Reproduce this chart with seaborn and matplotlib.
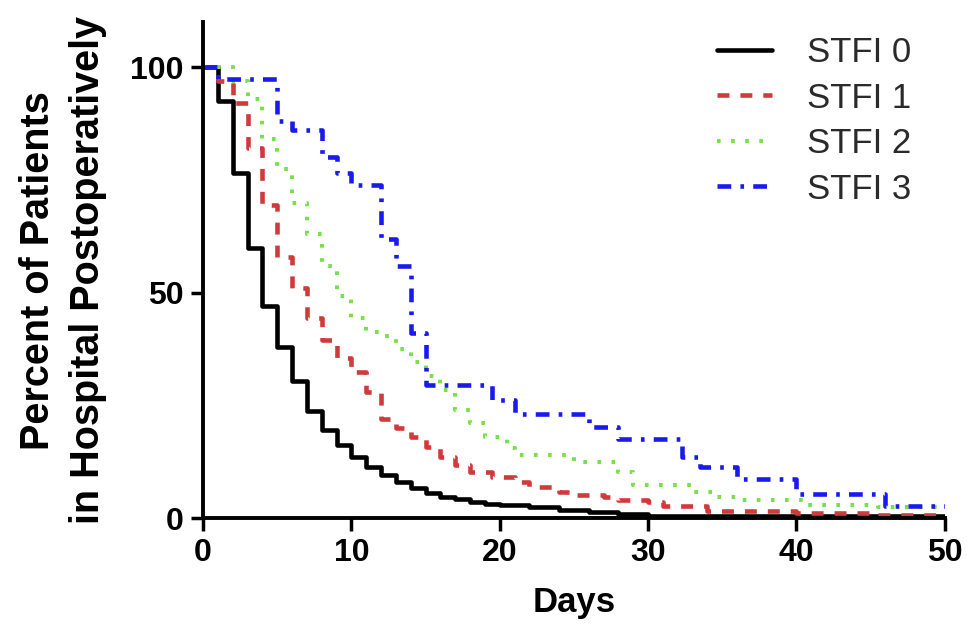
import matplotlib
matplotlib.use("Agg")
import matplotlib.pyplot as plt
import seaborn as sns
import pandas as pd

# ---- data ----
labels = ["STFI 0", "STFI 1", "STFI 2", "STFI 3"]

days_0 = [0, 1, 2, 3, 4, 5, 6, 7, 8, 9, 10, 11, 12, 13, 14, 15, 16, 17, 18, 19, 20, 22, 24, 26, 28, 30, 50]
pct_0 = [100, 92.6, 76.5, 60, 47, 38, 30.4, 23.7, 19.6, 16.3, 13.6, 11.4, 9.6, 8.0, 6.7, 5.6, 4.8, 4.2, 3.6, 3.2, 2.9, 2.4, 1.9, 1.4, 1.0, 0.4, 0.4]

days_1 = [0, 1, 2, 3, 4, 5, 6, 7, 8, 9, 10, 11, 12, 13, 14, 15, 16, 17, 18, 19.5, 21, 22, 24, 25, 27, 28, 30, 31, 34, 40, 45, 50]
pct_1 = [100, 97, 92, 82, 69.5, 58, 51, 44.5, 39.5, 35.5, 32.5, 28, 22, 20, 18, 15.8, 13.6, 11.8, 10.3, 9.1, 8.0, 6.9, 5.8, 5.1, 4.6, 4.0, 3.5, 2.8, 1.6, 1.1, 0.7, 0.7]

days_2 = [0, 2, 3, 4, 5, 6, 7, 8, 9, 10, 11, 12, 13, 14, 15, 16, 17, 18, 19, 20.5, 21, 25, 28, 29, 33, 34.5, 36, 40.5, 45.5, 50]
pct_2 = [100, 97, 93, 84, 77.5, 70, 63, 56, 49.3, 44.5, 41.3, 40.4, 37.5, 34.6, 31.5, 28.5, 24, 21, 18, 15.5, 14, 12.5, 10.3, 7.4, 5.8, 4.7, 4.0, 2.9, 2.5, 2.5]

days_3 = [0, 1, 5, 6, 8, 9, 10, 12, 13, 14, 15, 19.5, 21, 26, 28, 32.3, 33.5, 36, 40, 46, 50]
pct_3 = [100, 97.5, 88, 86, 80, 76.6, 74, 62, 56, 41, 29.5, 26.3, 23.2, 20.3, 17.6, 13.6, 11.4, 8.7, 5.4, 2.7, 2.7]

x_ticks = [0, 10, 20, 30, 40, 50]
y_ticks = [0, 50, 100]

series = [(days_0, pct_0), (days_1, pct_1), (days_2, pct_2), (days_3, pct_3)]
colors = ["#000000", "#d03a3a", "#77e04a", "#1a1aee"]
styles = ["-", (0, (2.6, 2.4)), (0, (0.9, 2.6)), (0, (3.0, 2.0, 0.8, 2.0))]
widths = [3.3, 3.3, 2.9, 3.3]

sns.set_theme(style="ticks")
plt.rcParams["font.family"] = ["Liberation Sans", "DejaVu Sans"]
plt.rcParams["text.color"] = "black"
plt.rcParams["axes.labelcolor"] = "black"
plt.rcParams["xtick.color"] = "black"
plt.rcParams["ytick.color"] = "black"

fig = plt.figure(figsize=(9.67, 6.35), dpi=100)
ax = fig.add_axes([0.21, 0.184, 0.767, 0.781])

for lab, (d, p), c, ls, lw in zip(labels, series, colors, styles, widths):
    df = pd.DataFrame({"Days": d, "Pct": p})
    sns.lineplot(data=df, x="Days", y="Pct", ax=ax, color=c, linestyle=ls,
                 linewidth=lw, drawstyle="steps-post", label=lab,
                 estimator=None, sort=False)

ax.set_xlim(0, 50)
ax.set_ylim(0, 110)
ax.set_xticks(x_ticks)
ax.set_yticks(y_ticks)
ax.set_xticklabels([str(t) for t in x_ticks], fontsize=23, fontweight="bold")
ax.set_yticklabels([str(t) for t in y_ticks], fontsize=23, fontweight="bold")
ax.tick_params(axis="both", length=9, width=2.5, color="black", labelcolor="black", pad=5)
ax.set_xlabel("Days", fontsize=25, fontweight="bold", labelpad=13, color="black")
ax.set_ylabel("Percent of Patients\nin Hospital Postoperatively", fontsize=28.5,
              fontweight="bold", labelpad=17, linespacing=1.4, color="black")
for side in ["top", "right"]:
    ax.spines[side].set_visible(False)
for side in ["left", "bottom"]:
    ax.spines[side].set_linewidth(2.8)
    ax.spines[side].set_color("black")
ax.set_facecolor("white")

leg = ax.legend(loc="upper right", bbox_to_anchor=(0.997, 1.035), frameon=False,
                fontsize=25, handlelength=1.6, labelspacing=0.36, handletextpad=1.0)
for t in leg.get_texts():
    t.set_color("#2a2a2a")

fig.savefig("out.png", dpi=100, facecolor="white")
